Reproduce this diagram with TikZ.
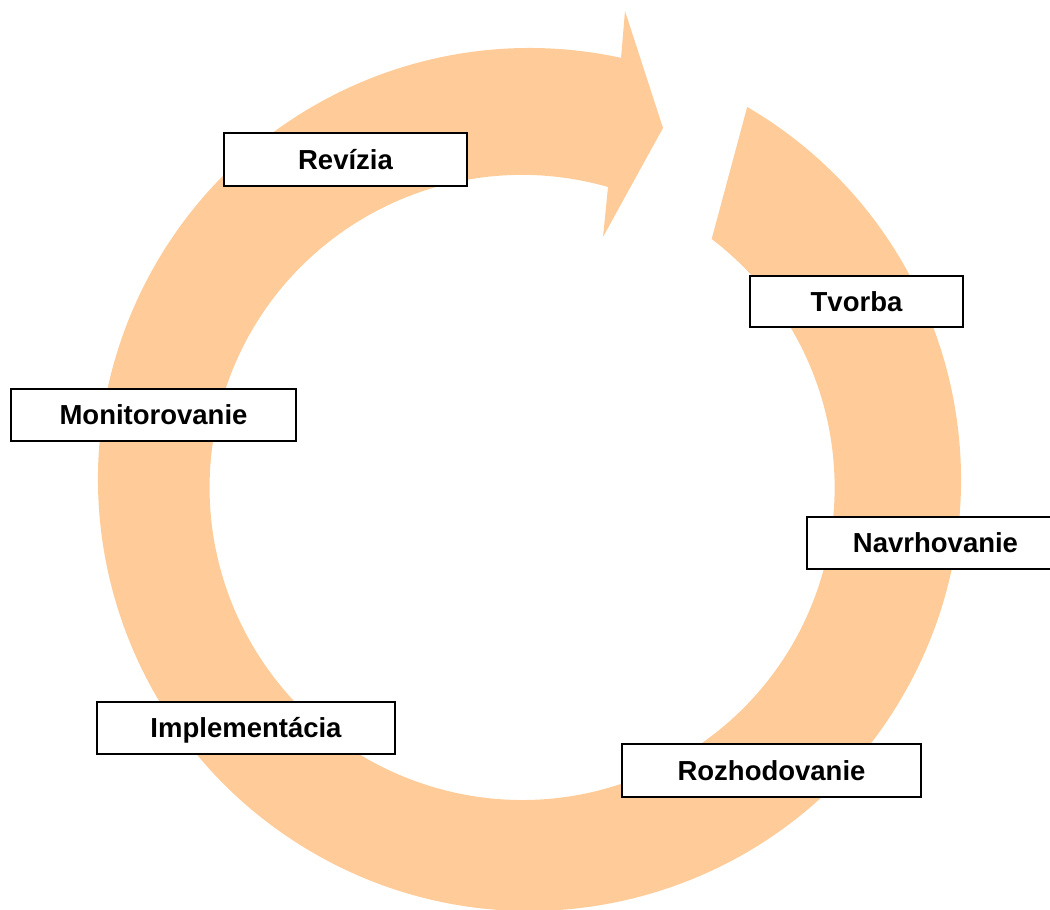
\documentclass[tikz,border=0pt]{standalone}
\usepackage{fontspec}
\setmainfont{Liberation Sans}
\definecolor{ringfill}{HTML}{FFCC99}
\tikzset{
  lbl/.style={draw=black, line width=1.5pt, fill=white, inner sep=0pt,
    font=\bfseries\fontsize{27.5}{33}\selectfont, text height=20pt, text depth=0pt},
}
\begin{document}
\begin{tikzpicture}[x=1pt,y=1pt]
\useasboundingbox (0,0) rectangle (1050,910);
% circular arrow
\coordinate (O) at (529.5,430.5);
\coordinate (I) at (522,422);
\coordinate (hb1) at (625,899);
\coordinate (tip) at (663,782);
\coordinate (hb2) at (603,673);
\coordinate (hin) at (608,723);
\fill[ringfill]
  ([shift={(O)}]59.7:431.5pt) arc[start angle=59.7, end angle=-282.25, radius=431.5pt]
  -- (hb1) -- (tip) -- (hb2) -- (hin)
  arc[start angle=-285.95, end angle=52.66, radius=312.5pt]
  -- cycle;
% labels
\node[lbl, minimum width=243pt, minimum height=53pt] (rev) at (345.5,750.5) {Revízia};
\node[lbl, minimum width=285pt, minimum height=52pt] (mon) at (153.5,495) {Monitorovanie};
\node[lbl, minimum width=298pt, minimum height=52pt] (imp) at (246,182) {Implementácia};
\node[lbl, minimum width=299pt, minimum height=53pt] (roz) at (771.5,139.5) {Rozhodovanie};
\node[lbl, minimum width=213pt, minimum height=51pt] (tvo) at (856.5,608.5) {Tvorba};
\node[lbl, minimum width=257pt, minimum height=52pt] (nav) at (935.5,367) {Navrhovanie};
\end{tikzpicture}
\end{document}
